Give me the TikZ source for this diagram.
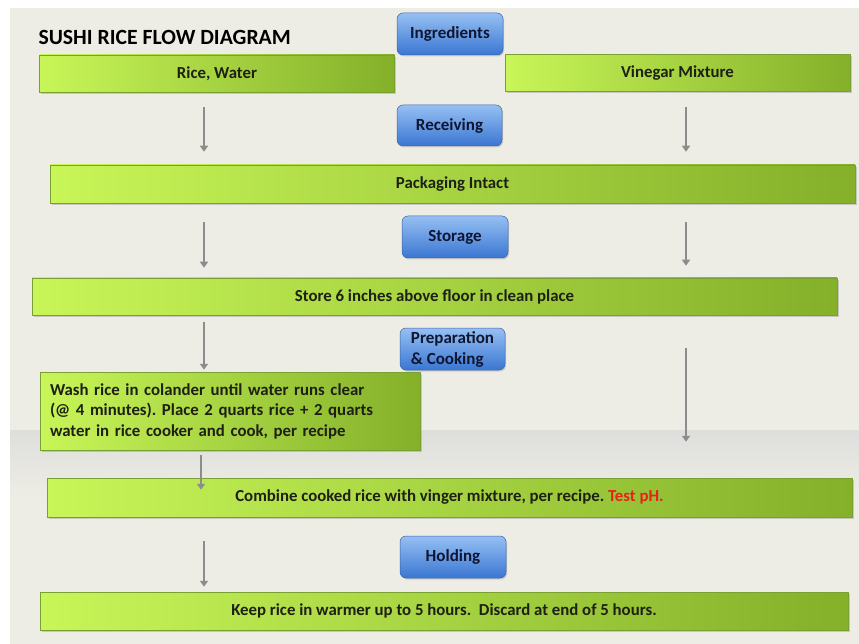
\documentclass[tikz,border=0pt]{standalone}
\usepackage{fontspec}
\setmainfont{Carlito}
\usetikzlibrary{shadows,arrows.meta}
\frenchspacing
\definecolor{bgbeige}{RGB}{238,237,229}
\definecolor{bggray}{RGB}{222,222,220}
\definecolor{barlight}{RGB}{200,246,88}
\definecolor{bardark}{RGB}{132,176,42}
\definecolor{baredge}{RGB}{120,160,50}
\definecolor{bartext}{RGB}{30,32,20}
\definecolor{boxtop}{RGB}{150,192,243}
\definecolor{boxbottom}{RGB}{58,118,210}
\definecolor{boxedge}{RGB}{60,100,170}
\definecolor{boxtext}{RGB}{15,22,50}
\definecolor{arrowgray}{RGB}{140,140,140}
\definecolor{phred}{RGB}{230,35,25}
\tikzset{
	greenbar/.style={draw=baredge, line width=0.5pt, left color=barlight, right color=bardark,
		drop shadow={shadow xshift=1.5pt, shadow yshift=-2pt, opacity=0.35},
		inner sep=0pt, text=bartext, font=\bfseries\fontsize{16.8}{20.5}\selectfont},
	stepbox/.style={draw=boxedge, line width=0.5pt, rounded corners=6pt,
		top color=boxtop, bottom color=boxbottom,
		drop shadow={shadow xshift=1pt, shadow yshift=-1.5pt, opacity=0.3},
		minimum width=106pt, minimum height=42pt, inner sep=0pt, align=left,
		text=boxtext, font=\bfseries\fontsize{17}{21}\selectfont},
	flow/.style={draw=arrowgray, line width=2.2pt, -{Triangle[length=6pt,width=8pt]}}
}

\begin{document}
\begin{tikzpicture}[x=1pt,y=-1pt]
	\useasboundingbox (0,0) rectangle (859,644);
	% Background
	\fill[white] (0,0) rectangle (859,644);
	\fill[bgbeige] (10,8) rectangle (859,644);
	\shade[top color=bggray, bottom color=bgbeige] (10,430) rectangle (859,500);
	
	\node[anchor=west, text=black, font=\bfseries\fontsize{21.7}{25}\selectfont] (title) at (35,37) {SUSHI RICE FLOW DIAGRAM};
	
	% Steps
	\node[stepbox] (ingr) at (450,34) {Ingredients};
	\node[stepbox, minimum width=105pt, minimum height=41pt] (recv) at (449.5,125.5) {Receiving};
	\node[stepbox] (stor) at (455,237) {Storage};
	\node[stepbox, minimum width=105pt] (prep) at (452.5,349) {Preparation\\ \& Cooking};
	\node[stepbox] (hold) at (453,557) {Holding};
	
	% Bars
	\node[greenbar, minimum width=355pt, minimum height=37pt] (rice) at (217,73.5) {Rice, Water};
	\node[greenbar, minimum width=345pt, minimum height=37pt] (vine) at (677.5,73) {Vinegar Mixture};
	\node[greenbar, minimum width=805pt, minimum height=38pt] (pack) at (452.5,184) {Packaging Intact};
	\node[greenbar, minimum width=805pt, minimum height=37pt] (store) at (434.5,296.5) {Store 6 inches above floor in clean place};
	\node[greenbar, text width=360pt, minimum height=78pt, inner xsep=10pt, align=left] (wash) at (230,411)
		{Wash rice in colander until water runs clear\\(@ 4 minutes). Place 2 quarts rice + 2 quarts\\water in rice cooker and cook, per recipe};
	\node[greenbar, minimum width=805pt, minimum height=39pt] (comb) at (449.5,497.5) {Combine cooked rice with vinger mixture, per recipe. \textcolor{phred}{Test pH.}};
	\node[greenbar, minimum width=808pt, minimum height=38pt] (keep) at (444,611) {Keep rice in warmer up to 5 hours.\ \ Discard at end of 5 hours.};
	
	% Arrows
	\coordinate (colL) at (204,0);
	\coordinate (colR) at (686,0);
	\coordinate (colW) at (201,0);
	\draw[flow, shorten <=15pt, shorten >=13pt] (rice.south -| colL) -- (pack.north -| colL);
	\draw[flow, shorten <=15pt, shorten >=13pt] (vine.south -| colR) -- (pack.north -| colR);
	\draw[flow, shorten <=19pt, shorten >=10pt] (pack.south -| colL) -- (store.north -| colL);
	\draw[flow, shorten <=19pt, shorten >=12pt] (pack.south -| colR) -- (store.north -| colR);
	\draw[flow, shorten <=7pt, shorten >=2pt] (store.south -| colL) -- (wash.north -| colL);
	\draw[flow, shorten <=33pt, shorten >=36pt] (store.south -| colR) -- (comb.north -| colR);
	\draw[flow, shorten <=5pt, shorten >=-12pt] (wash.south -| colW) -- (comb.north -| colW);
	\draw[flow, shorten <=24pt, shorten >=5pt] (comb.south -| colL) -- (keep.north -| colL);
\end{tikzpicture}
\end{document}
